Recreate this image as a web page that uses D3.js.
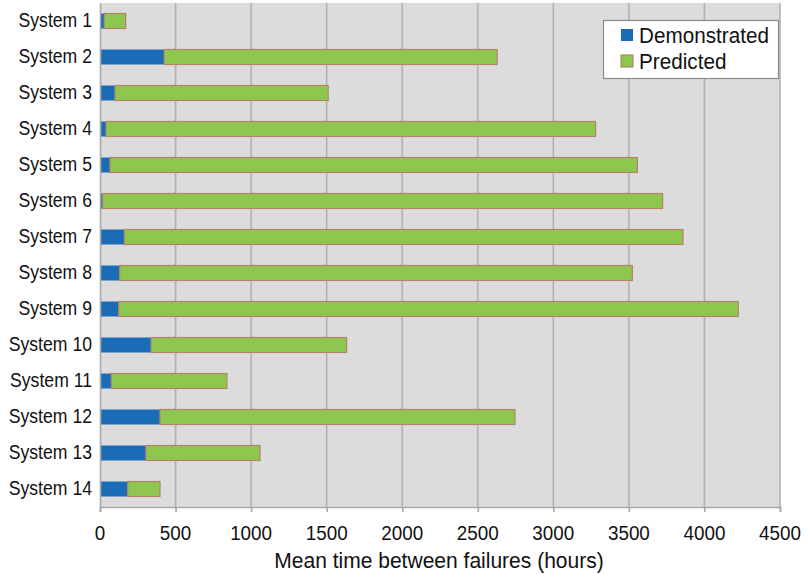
<!DOCTYPE html>
<html>
<head>
<meta charset="utf-8">
<script src="https://cdn.jsdelivr.net/npm/d3@7/dist/d3.min.js"></script>
<style>
  html, body { margin: 0; padding: 0; background: #fff; }
  svg { display: block; font-family: "Liberation Sans", Arial, Helvetica, sans-serif; }
</style>
</head>
<body>
<svg id="chart" width="807" height="574"></svg>
<script>
// Mean time between failures per system (hours)
const systems = ["System 1","System 2","System 3","System 4","System 5","System 6","System 7",
                 "System 8","System 9","System 10","System 11","System 12","System 13","System 14"];
const demonstrated = [28, 425, 99, 40, 66, 18, 161, 130, 124, 338, 75, 397, 304, 183];
// predicted segment, stacked after the demonstrated portion
const predicted = [142, 2203, 1411, 3240, 3490, 3705, 3697, 3393, 4100, 1294, 765, 2349, 755, 214];
const xTicks = [0, 500, 1000, 1500, 2000, 2500, 3000, 3500, 4000, 4500];
const seriesNames = ["Demonstrated", "Predicted"];
const seriesColors = ["#1b6cb7", "#8ec74e"];

const svg = d3.select("#chart");
const plot = { left: 100, right: 780, top: 3, bottom: 507 };

const x = d3.scaleLinear().domain([0, 4500]).range([plot.left, plot.right]);
const y = d3.scaleBand().domain(systems).range([plot.top, plot.bottom])
  .paddingInner(0.5833).paddingOuter(0.29167);

// narrow-set text: glyphs drawn at size, then compressed horizontally
function label(g, tx, ty, str, size, sx, anchor) {
  return g.append("text")
    .attr("transform", `translate(${tx},${ty}) scale(${sx},1)`)
    .attr("text-anchor", anchor)
    .attr("font-size", size).attr("fill", "#111")
    .text(str);
}

// plot background
svg.append("rect")
  .attr("x", plot.left).attr("y", plot.top)
  .attr("width", plot.right - plot.left).attr("height", plot.bottom - plot.top)
  .attr("fill", "#dcdcdc");

// vertical gridlines
svg.append("g").selectAll("line").data(xTicks.slice(1)).join("line")
  .attr("x1", d => x(d)).attr("x2", d => x(d))
  .attr("y1", plot.top).attr("y2", plot.bottom)
  .attr("stroke", "#b2b2b2").attr("stroke-width", 1.6);

// stacked bars
const rows = systems.map((s, i) => ({ system: s, Demonstrated: demonstrated[i], Predicted: predicted[i] }));
const stacked = d3.stack().keys(seriesNames)(rows);

svg.append("g").selectAll("g").data(stacked).join("g")
  .attr("fill", (d, i) => seriesColors[i])
  .attr("stroke", (d, i) => i === 1 ? "#b48468" : "none")
  .attr("stroke-width", 1.2)
  .selectAll("rect").data(d => d).join("rect")
    .attr("x", d => x(d[0]))
    .attr("y", d => y(d.data.system))
    .attr("width", d => x(d[1]) - x(d[0]))
    .attr("height", y.bandwidth());

// bottom axis (lines from d3.axisBottom, labels set narrow)
const xAxis = d3.axisBottom(x).tickValues(xTicks).tickSize(5).tickFormat("");
const gx = svg.append("g").attr("transform", `translate(0,${plot.bottom})`).call(xAxis);
gx.select(".domain").attr("stroke", "#a8a8a8").attr("stroke-width", 1.6);
gx.selectAll(".tick line").attr("stroke", "#a8a8a8").attr("stroke-width", 1.6);
const xLabels = svg.append("g");
xTicks.forEach(t => label(xLabels, x(t), 540, d3.format("d")(t), 20.5, 0.92, "middle"));

// left axis
const yAxis = d3.axisLeft(y).tickSize(0).tickFormat("");
const gy = svg.append("g").attr("transform", `translate(${plot.left},0)`).call(yAxis);
gy.select(".domain").attr("stroke", "#a8a8a8").attr("stroke-width", 1.6);
const yLabels = svg.append("g");
systems.forEach(s => label(yLabels, 92, y(s) + y.bandwidth() / 2 + 6, s, 20.5, 0.86, "end"));

// axis title
label(svg, (plot.left + plot.right) / 2 - 1, 568, "Mean time between failures (hours)", 22.5, 0.935, "middle");

// legend
const legend = svg.append("g");
legend.append("rect")
  .attr("x", 603.5).attr("y", 20.5).attr("width", 175).attr("height", 58)
  .attr("fill", "#fff").attr("stroke", "#8a8a8a").attr("stroke-width", 1.2);
seriesNames.forEach((name, i) => {
  const yy = 29 + i * 26;
  legend.append("rect")
    .attr("x", 621).attr("y", yy).attr("width", 12).attr("height", 12)
    .attr("fill", seriesColors[i])
    .attr("stroke", i === 1 ? "#b48468" : "none").attr("stroke-width", 1.2);
  label(legend, 639, yy + 13.5, name, 22.5, 0.92, "start");
});
</script>
</body>
</html>
